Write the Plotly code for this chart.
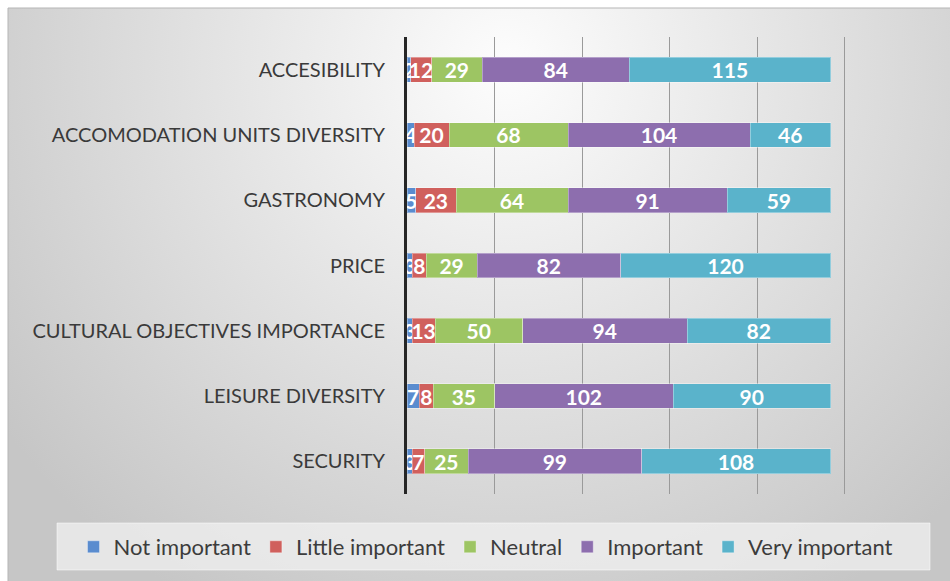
import base64
import plotly.graph_objects as go

categories = [
    "ACCESIBILITY",
    "ACCOMODATION UNITS DIVERSITY",
    "GASTRONOMY",
    "PRICE",
    "CULTURAL OBJECTIVES IMPORTANCE",
    "LEISURE DIVERSITY",
    "SECURITY",
]
not_important = [2, 4, 5, 3, 3, 7, 3]
little_important = [12, 20, 23, 8, 13, 8, 7]
neutral = [29, 68, 64, 29, 50, 35, 25]
important = [84, 104, 91, 82, 94, 102, 99]
very_important = [115, 46, 59, 120, 82, 90, 108]

series_names = ["Not important", "Little important", "Neutral", "Important", "Very important"]
series_values = [not_important, little_important, neutral, important, very_important]
series_colors = ["#5A8CCF", "#D0605D", "#9DC563", "#8D6EAE", "#5AB3CB"]

W, H = 950, 581
M = 8  # outer margin (paper area)
AW, AH = W - 2 * M, H - 2 * M

# plot area in pixels
PX0, PX1, PY0, PY1 = 407, 932, 37, 494


def fx(px):
    return (px - M) / AW


def fy(py):
    return (H - M - py) / AH


svg = (
    '<svg xmlns="http://www.w3.org/2000/svg" width="943" height="574" viewBox="0 0 943 574" '
    'preserveAspectRatio="none"><defs><radialGradient id="g" gradientUnits="userSpaceOnUse" '
    'cx="500" cy="60" r="620"><stop offset="0" stop-color="#fdfdfd"/>'
    '<stop offset="1" stop-color="#c6c6c6"/></radialGradient></defs>'
    '<rect width="943" height="574" fill="url(#g)"/></svg>'
)
bg_uri = "data:image/svg+xml;base64," + base64.b64encode(svg.encode()).decode()

fig = go.Figure()
for name, vals, col in zip(series_names, series_values, series_colors):
    fig.add_trace(
        go.Bar(
            y=categories,
            x=vals,
            name=name,
            orientation="h",
            marker=dict(color=col, line=dict(color="rgba(255,255,255,0.35)", width=1)),
            text=[str(v) for v in vals],
            textposition="inside",
            insidetextanchor="middle",
            textangle=0,
            textfont=dict(family="Lato", size=21, color="white", weight="bold"),
            hoverinfo="x+y+name",
        )
    )

fig.update_layout(
    width=W,
    height=H,
    barmode="stack",
    bargap=0.62,
    margin=dict(l=M, r=M, t=M, b=M, autoexpand=False),
    paper_bgcolor="white",
    plot_bgcolor="rgba(0,0,0,0)",
    uniformtext=dict(minsize=21, mode="show"),
    font=dict(family="Lato", color="#3c3c3c"),
    xaxis=dict(
        domain=[fx(PX0), fx(PX1)],
        range=[0, 300],
        dtick=50,
        showticklabels=False,
        showgrid=True,
        gridcolor="#9a9a9a",
        gridwidth=1,
        zeroline=False,
        showline=False,
        fixedrange=True,
    ),
    yaxis=dict(
        domain=[fy(PY1), fy(PY0)],
        autorange="reversed",
        showline=True,
        linecolor="#262626",
        linewidth=3,
        ticks="",
        ticklabelstandoff=15,
        tickfont=dict(family="Lato", size=20, color="#3a3a3a"),
        automargin=False,
        showgrid=False,
    ),
    legend=dict(
        orientation="h",
        traceorder="normal",
        x=fx(486),
        xanchor="center",
        y=fy(547),
        yanchor="middle",
        bgcolor="rgba(0,0,0,0)",
        font=dict(family="Lato", size=22, color="#3c3c3c"),
    ),
    images=[
        dict(
            source=bg_uri,
            xref="paper",
            yref="paper",
            x=fx(8),
            y=fy(8),
            sizex=(W - 8) / AW,
            sizey=(H - 8) / AH,
            xanchor="left",
            yanchor="top",
            sizing="stretch",
            layer="below",
        )
    ],
    shapes=[
        dict(
            type="rect",
            xref="paper",
            yref="paper",
            x0=fx(8),
            x1=fx(952),
            y0=fy(8),
            y1=fy(583),
            line=dict(color="#b5b5b5", width=1),
            fillcolor="rgba(0,0,0,0)",
            layer="below",
        ),
        dict(
            type="rect",
            xref="paper",
            yref="paper",
            x0=fx(57),
            x1=fx(930),
            y0=fy(523),
            y1=fy(570),
            line=dict(color="rgba(255,255,255,0.5)", width=1),
            fillcolor="rgba(240,240,240,0.75)",
            layer="below",
        ),
    ],
)

fig.write_html("out.html")
